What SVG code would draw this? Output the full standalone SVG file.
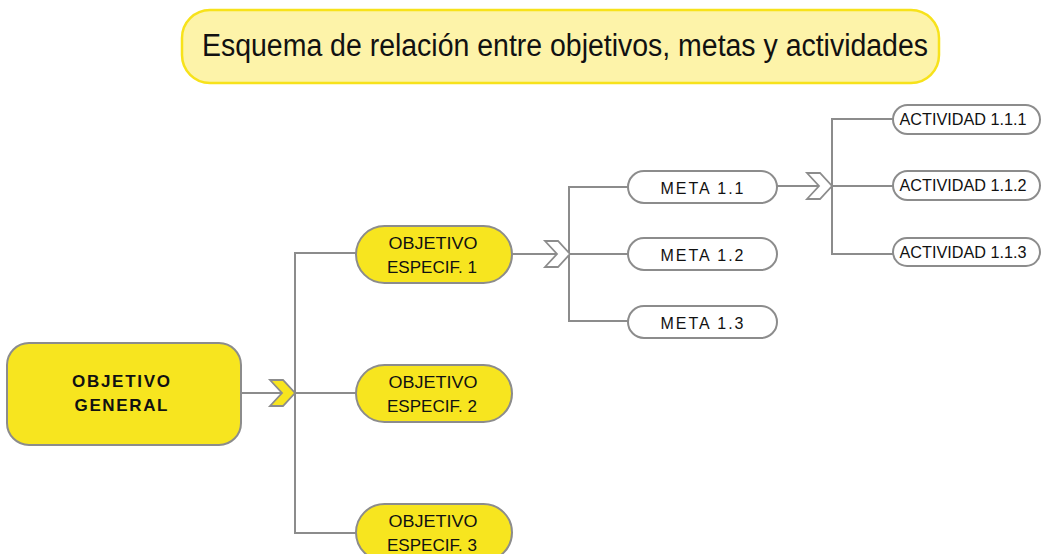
<svg xmlns="http://www.w3.org/2000/svg" width="1041" height="554" viewBox="0 0 1041 554">
<style>
  .conn { fill: none; stroke: #8c8c8c; stroke-width: 2; }
  .chev-y { fill: #f7e51f; stroke: #8c8c8c; stroke-width: 1.8; stroke-linejoin: miter; }
  .chev-w { fill: #ffffff; stroke: #8c8c8c; stroke-width: 1.8; stroke-linejoin: miter; }
  .ybox { fill: #f7e51f; stroke: #8c8c8c; stroke-width: 2; }
  .wbox { fill: #ffffff; stroke: #8c8c8c; stroke-width: 2; }
  .t { font-family: "Liberation Sans", Arial, sans-serif; fill: #111111; text-anchor: middle; }
  .tb { font-family: "Liberation Sans", Arial, sans-serif; fill: #111111; text-anchor: middle; font-weight: bold; }
</style>
<rect width="1041" height="554" fill="#ffffff"/>

<g id="title">
  <rect x="182" y="10" width="757" height="73" rx="28" ry="28" fill="#fdf3a9" stroke="#f7e21b" stroke-width="2.5"/>
  <text x="565" y="56" class="t" font-size="31" textLength="726" lengthAdjust="spacingAndGlyphs">Esquema de relación entre objetivos, metas y actividades</text>
</g>

<g id="connectors">
  <path class="conn" d="M241 393 H283"/>
  <path class="conn" d="M356 253 H295 V533 H356 M295 393 H356"/>
  <path class="conn" d="M512 254 H557"/>
  <path class="conn" d="M628 187 H569 V321 H628 M569 254 H628"/>
  <path class="conn" d="M777 186 H819"/>
  <path class="conn" d="M893 119 H832 V254 H893 M832 186 H893"/>
  <polygon class="chev-y" points="270,380 283,380 295,393 283,406 270,406 282,393"/>
  <polygon class="chev-w" points="545,241 558,241 570,254 558,267 545,267 557,254"/>
  <polygon class="chev-w" points="807,173 820,173 832,186 820,199 807,199 819,186"/>
</g>

<g id="objetivo-general">
  <rect class="ybox" x="7" y="343" width="234" height="102" rx="22" ry="22"/>
  <text class="tb" x="121" y="387" font-size="17" textLength="98" lengthAdjust="spacing">OBJETIVO</text>
  <text class="tb" x="121" y="411" font-size="17" textLength="93" lengthAdjust="spacing">GENERAL</text>
</g>

<g id="objetivo-especif-1">
  <rect class="ybox" x="356" y="226" width="156" height="57" rx="28.5" ry="28.5"/>
  <text class="t" x="433" y="249" font-size="16.5" textLength="89" lengthAdjust="spacingAndGlyphs">OBJETIVO</text>
  <text class="t" x="432" y="273" font-size="16.5" textLength="90" lengthAdjust="spacingAndGlyphs">ESPECIF. 1</text>
</g>

<g id="objetivo-especif-2">
  <rect class="ybox" x="356" y="365" width="156" height="57" rx="28.5" ry="28.5"/>
  <text class="t" x="433" y="388" font-size="16.5" textLength="89" lengthAdjust="spacingAndGlyphs">OBJETIVO</text>
  <text class="t" x="432" y="412" font-size="16.5" textLength="90" lengthAdjust="spacingAndGlyphs">ESPECIF. 2</text>
</g>

<g id="objetivo-especif-3">
  <rect class="ybox" x="356" y="504" width="156" height="57" rx="28.5" ry="28.5"/>
  <text class="t" x="433" y="527" font-size="16.5" textLength="89" lengthAdjust="spacingAndGlyphs">OBJETIVO</text>
  <text class="t" x="432" y="551" font-size="16.5" textLength="90" lengthAdjust="spacingAndGlyphs">ESPECIF. 3</text>
</g>

<g id="meta-1-1">
  <rect class="wbox" x="628" y="171" width="149" height="32" rx="16" ry="16"/>
  <text class="t" x="702" y="194" font-size="16" textLength="83" lengthAdjust="spacing">META 1.1</text>
</g>
<g id="meta-1-2">
  <rect class="wbox" x="628" y="238" width="149" height="32" rx="16" ry="16"/>
  <text class="t" x="702" y="261" font-size="16" textLength="83" lengthAdjust="spacing">META 1.2</text>
</g>
<g id="meta-1-3">
  <rect class="wbox" x="628" y="306" width="149" height="32" rx="16" ry="16"/>
  <text class="t" x="702" y="329" font-size="16" textLength="83" lengthAdjust="spacing">META 1.3</text>
</g>

<g id="actividad-1-1-1">
  <rect class="wbox" x="893" y="105" width="147" height="29" rx="14.5" ry="14.5"/>
  <text class="t" x="963" y="125" font-size="16" textLength="127" lengthAdjust="spacingAndGlyphs">ACTIVIDAD 1.1.1</text>
</g>
<g id="actividad-1-1-2">
  <rect class="wbox" x="893" y="171" width="147" height="29" rx="14.5" ry="14.5"/>
  <text class="t" x="963" y="191" font-size="16" textLength="127" lengthAdjust="spacingAndGlyphs">ACTIVIDAD 1.1.2</text>
</g>
<g id="actividad-1-1-3">
  <rect class="wbox" x="893" y="238" width="147" height="28" rx="14" ry="14"/>
  <text class="t" x="963" y="258" font-size="16" textLength="127" lengthAdjust="spacingAndGlyphs">ACTIVIDAD 1.1.3</text>
</g>
</svg>
